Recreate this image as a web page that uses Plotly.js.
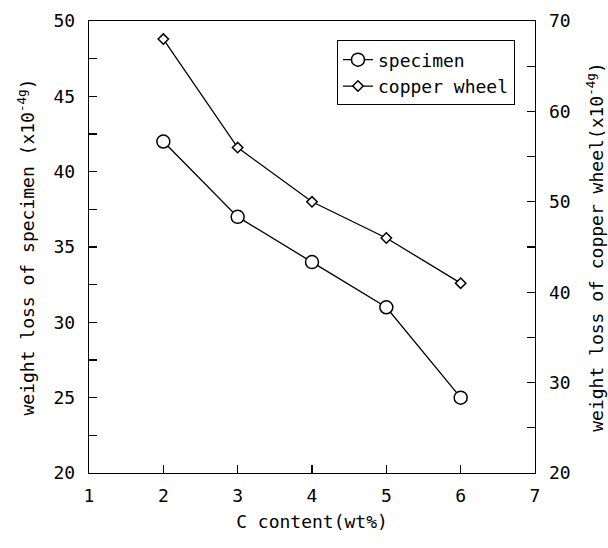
<!DOCTYPE html>
<html>
<head>
<meta charset="utf-8">
<script src="https://cdn.plot.ly/plotly-3.0.1.min.js"></script>
<style>html,body{margin:0;padding:0;background:#fff;}#chart{width:608px;height:548px;}</style>
</head>
<body>
<div id="chart"></div>
<script>
const carbon = [2, 3, 4, 5, 6];
const specimenLoss = [42, 37, 34, 31, 25];
const copperLoss = [68, 56, 50, 46, 41];
const xTicks = [1, 2, 3, 4, 5, 6, 7];
const leftTicks = [20, 25, 30, 35, 40, 45, 50];
const rightTicks = [20, 30, 40, 50, 60, 70];

const F = "DejaVu Sans Mono, monospace";

const traces = [
  {
    x: carbon, y: specimenLoss, name: "specimen", type: "scatter", mode: "lines+markers",
    line: {color: "#000", width: 1.3},
    marker: {symbol: "circle", size: 13, color: "#fff", line: {color: "#000", width: 1.5}},
    yaxis: "y"
  },
  {
    x: carbon, y: copperLoss, name: "copper wheel", type: "scatter", mode: "lines+markers",
    line: {color: "#000", width: 1.3},
    marker: {symbol: "diamond", size: 8, color: "#fff", line: {color: "#000", width: 1.5}},
    yaxis: "y2"
  }
];

const layout = {
  width: 608, height: 548,
  paper_bgcolor: "#fff", plot_bgcolor: "#fff",
  margin: {l: 89, r: 73, t: 20.5, b: 75},
  font: {family: F, size: 18, color: "#000"},
  showlegend: true,
  legend: {
    x: 0.556, y: 0.957, xanchor: "left", yanchor: "top",
    bordercolor: "#000", borderwidth: 1, bgcolor: "#fff",
    font: {family: F, size: 18, color: "#000"},
    tracegroupgap: 0, itemwidth: 30
  },
  xaxis: {
    range: [1, 7], tickvals: xTicks, ticktext: xTicks.map(String),
    ticks: "inside", ticklen: 8, tickwidth: 1.2, tickcolor: "#000",
    ticklabelstandoff: 6,
    showline: true, linecolor: "#000", linewidth: 1.3, mirror: true,
    showgrid: false, zeroline: false,
    tickfont: {family: F, size: 18},
    title: {text: "C content(wt%)", font: {family: F, size: 18}, standoff: 10},
    automargin: false
  },
  yaxis: {
    range: [20, 50], tickvals: leftTicks, ticktext: leftTicks.map(String),
    ticks: "inside", ticklen: 8, tickwidth: 1.2, tickcolor: "#000",
    ticklabelstandoff: 9,
    minor: {dtick: 2.5, ticks: "inside", ticklen: 8, tickcolor: "#000", tickwidth: 1.2, showgrid: false},
    showline: true, linecolor: "#000", linewidth: 1.3,
    showgrid: false, zeroline: false,
    tickfont: {family: F, size: 18},
    title: {text: "weight loss of specimen (x10<sup>-4g</sup>)", font: {family: F, size: 18}, standoff: 14},
    automargin: false
  },
  yaxis2: {
    range: [20, 70], tickvals: rightTicks, ticktext: rightTicks.map(String),
    overlaying: "y", side: "right",
    ticks: "inside", ticklen: 8, tickwidth: 1.2, tickcolor: "#000",
    ticklabelstandoff: 9,
    minor: {dtick: 5, ticks: "inside", ticklen: 8, tickcolor: "#000", tickwidth: 1.2, showgrid: false},
    showline: true, linecolor: "#000", linewidth: 1.3,
    showgrid: false, zeroline: false,
    tickfont: {family: F, size: 18},
    title: {text: "weight loss of copper wheel(x10<sup>-4g</sup>)", font: {family: F, size: 18}, standoff: 20},
    automargin: false
  }
};

Plotly.newPlot("chart", traces, layout, {displayModeBar: false, staticPlot: true});
</script>
</body>
</html>
